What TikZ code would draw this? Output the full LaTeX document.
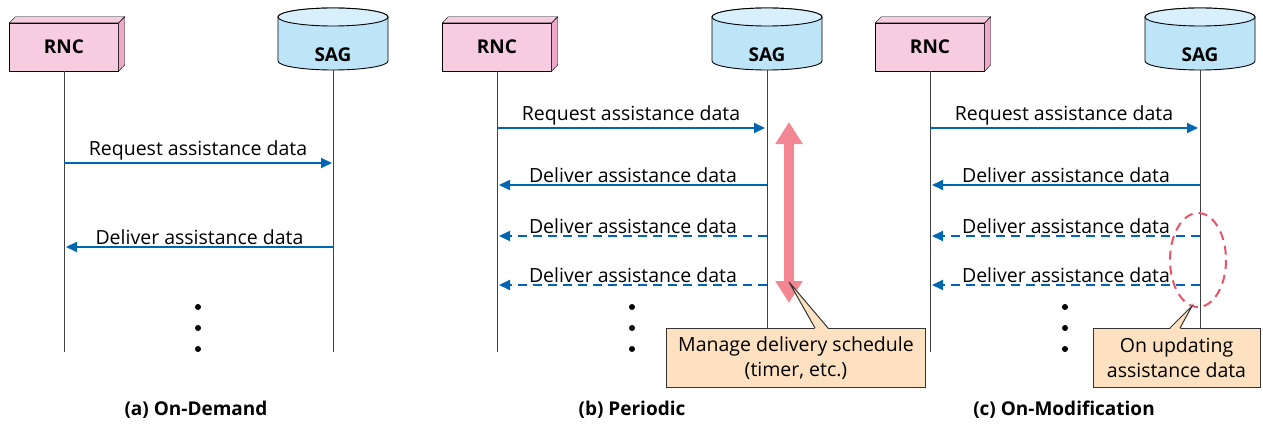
\documentclass[tikz,border=0pt]{standalone}
\usepackage{fontspec}
\setmainfont{Open Sans}
\usetikzlibrary{arrows.meta,calc}
\definecolor{rncfill}{RGB}{248,204,224}
\definecolor{rncside}{RGB}{238,168,200}
\definecolor{sagbody}{RGB}{190,228,248}
\definecolor{sagtop}{RGB}{216,240,252}
\definecolor{msgblue}{RGB}{0,102,178}
\definecolor{timerpink}{RGB}{242,134,146}
\definecolor{notefill}{RGB}{253,225,192}
\definecolor{updred}{RGB}{232,84,106}

\begin{document}
\begin{tikzpicture}[x=1pt, y=-1pt, line join=miter,
    rnc/.style = {draw, fill=rncfill, minimum width=109, minimum height=48, inner sep=0, font=\fontsize{19}{21}\selectfont\bfseries},
    sag/.style = {minimum width=110, minimum height=30, inner sep=0, font=\fontsize{19}{21}\selectfont\bfseries},
    life/.style = {draw=black!75, line width=0.9pt},
    msg/.style = {draw=msgblue, line width=2pt, -{Triangle[length=11pt,width=10pt]}},
    later/.style = {msg, dash pattern=on 9pt off 6pt},
    lbl/.style = {above, inner sep=1.5pt, font=\fontsize{19.5}{22}\selectfont},
    note/.style = {draw=black!80, line width=1pt, fill=notefill, align=center, inner sep=0, font=\fontsize{19.5}{25}\selectfont},
    caption/.style = {font=\fontsize{19}{22}\selectfont\bfseries},
    dot/.style = {circle, fill=black, inner sep=0, minimum size=6}]
  \useasboundingbox (0,0) rectangle (1263,425);

  % (a) On-Demand
  \node[rnc] (rncA) at (64,47) {RNC};
  \draw[fill=rncside] (rncA.north east) -- ++(6,-6) -- ++(0,48) -- (rncA.south east) -- cycle;
  \draw[fill=rncfill] (rncA.north west) -- ++(6,-6) -- ++(109,0) -- (rncA.north east) -- cycle;
  \node[sag] (sagA) at (333,55) {};
  \draw[fill=sagbody, line width=0.9pt] ($(sagA)+(-55,-38)$) -- ++(0,44) arc[start angle=180, end angle=0, x radius=55, y radius=9] -- ++(0,-44) arc[start angle=0, end angle=-180, x radius=55, y radius=9] -- cycle;
  \draw[fill=sagtop, line width=0.9pt] ($(sagA)+(0,-38)$) ellipse[x radius=55, y radius=9];
  \node[sag] at (sagA) {SAG};
  \coordinate (rncAend) at (64,352);
  \coordinate (sagAend) at (333,352);
  \draw[life] (rncA.south) -- (rncAend);
  \draw[life] (sagA.south) -- (sagAend);
  \coordinate (rA1) at (64,163);  \coordinate (sA1) at (332,163);
  \coordinate (rA2) at (66,247);  \coordinate (sA2) at (333,247);
  \draw[msg] (rA1) -- (sA1) node[lbl, midway] {Request assistance data};
  \draw[msg] (sA2) -- (rA2) node[lbl, midway] {Deliver assistance data};
  \node[dot] (dA1) at (198,307) {};
  \node[dot] (dA2) at (198,328) {};
  \node[dot] (dA3) at (198,349) {};
  \node[caption] (capA) at (196,410) {(a) On-Demand};

  % (b) Periodic
  \node[rnc] (rncB) at (497,47) {RNC};
  \draw[fill=rncside] (rncB.north east) -- ++(6,-6) -- ++(0,48) -- (rncB.south east) -- cycle;
  \draw[fill=rncfill] (rncB.north west) -- ++(6,-6) -- ++(109,0) -- (rncB.north east) -- cycle;
  \node[sag] (sagB) at (767,55) {};
  \draw[fill=sagbody, line width=0.9pt] ($(sagB)+(-55,-38)$) -- ++(0,44) arc[start angle=180, end angle=0, x radius=55, y radius=9] -- ++(0,-44) arc[start angle=0, end angle=-180, x radius=55, y radius=9] -- cycle;
  \draw[fill=sagtop, line width=0.9pt] ($(sagB)+(0,-38)$) ellipse[x radius=55, y radius=9];
  \node[sag] at (sagB) {SAG};
  \coordinate (rncBend) at (497,352);
  \coordinate (sagBend) at (767,352);
  \draw[life] (rncB.south) -- (rncBend);
  \draw[life] (sagB.south) -- (sagBend);
  \coordinate (rB1) at (497,128);  \coordinate (sB1) at (765,128);
  \coordinate (rB2) at (499,185);  \coordinate (sB2) at (767,185);
  \coordinate (rB3) at (499,236);  \coordinate (sB3) at (767,236);
  \coordinate (rB4) at (499,285);  \coordinate (sB4) at (767,285);
  \draw[msg] (rB1) -- (sB1) node[lbl, midway] {Request assistance data};
  \draw[msg] (sB2) -- (rB2) node[lbl, midway] {Deliver assistance data};
  \draw[later] (sB3) -- (rB3) node[lbl, midway] {Deliver assistance data};
  \draw[later] (sB4) -- (rB4) node[lbl, midway] {Deliver assistance data};
  \node[dot] (dB1) at (632,307) {};
  \node[dot] (dB2) at (632,328) {};
  \node[dot] (dB3) at (632,349) {};
  \coordinate (timerTop) at (789,122);
  \coordinate (timerBot) at (789,303);
  \draw[timerpink, line width=10pt, {Triangle[length=22pt,width=26pt]}-{Triangle[length=22pt,width=26pt]}] (timerBot) -- (timerTop);
  \node[note, minimum width=259, minimum height=59] (noteB) at (796,358) {Manage delivery schedule\\(timer, etc.)};
  \coordinate (tipB) at (789,282);
  \fill[notefill] (815,329) -- (tipB) -- (828,329) -- cycle;
  \draw[black!80, line width=1pt] (815,328) -- (tipB) -- (828,328);
  \node[caption] (capB) at (632,410) {(b) Periodic};

  % (c) On-Modification
  \node[rnc] (rncC) at (930,47) {RNC};
  \draw[fill=rncside] (rncC.north east) -- ++(6,-6) -- ++(0,48) -- (rncC.south east) -- cycle;
  \draw[fill=rncfill] (rncC.north west) -- ++(6,-6) -- ++(109,0) -- (rncC.north east) -- cycle;
  \node[sag] (sagC) at (1200,55) {};
  \draw[fill=sagbody, line width=0.9pt] ($(sagC)+(-55,-38)$) -- ++(0,44) arc[start angle=180, end angle=0, x radius=55, y radius=9] -- ++(0,-44) arc[start angle=0, end angle=-180, x radius=55, y radius=9] -- cycle;
  \draw[fill=sagtop, line width=0.9pt] ($(sagC)+(0,-38)$) ellipse[x radius=55, y radius=9];
  \node[sag] at (sagC) {SAG};
  \coordinate (rncCend) at (930,352);
  \coordinate (sagCend) at (1200,352);
  \draw[life] (rncC.south) -- (rncCend);
  \draw[life] (sagC.south) -- (sagCend);
  \coordinate (rC1) at (930,128);  \coordinate (sC1) at (1198,128);
  \coordinate (rC2) at (932,185);  \coordinate (sC2) at (1200,185);
  \coordinate (rC3) at (932,236);  \coordinate (sC3) at (1200,236);
  \coordinate (rC4) at (932,285);  \coordinate (sC4) at (1200,285);
  \draw[msg] (rC1) -- (sC1) node[lbl, midway] {Request assistance data};
  \draw[msg] (sC2) -- (rC2) node[lbl, midway] {Deliver assistance data};
  \draw[later] (sC3) -- (rC3) node[lbl, midway] {Deliver assistance data};
  \draw[later] (sC4) -- (rC4) node[lbl, midway] {Deliver assistance data};
  \node[dot] (dC1) at (1065,307) {};
  \node[dot] (dC2) at (1065,328) {};
  \node[dot] (dC3) at (1065,349) {};
  \draw[updred, line width=2pt, dash pattern=on 9pt off 6pt] (1198,260) ellipse[x radius=28, y radius=47];
  \node[note, minimum width=167, minimum height=59] (noteC) at (1176.5,358) {On updating\\assistance data};
  \coordinate (tipC) at (1192,306);
  \fill[notefill] (1170,329) -- (tipC) -- (1180,329) -- cycle;
  \draw[black!80, line width=1pt] (1170,328) -- (tipC) -- (1180,328);
  \node[caption] (capC) at (1064,410) {(c) On-Modification};
\end{tikzpicture}
\end{document}
